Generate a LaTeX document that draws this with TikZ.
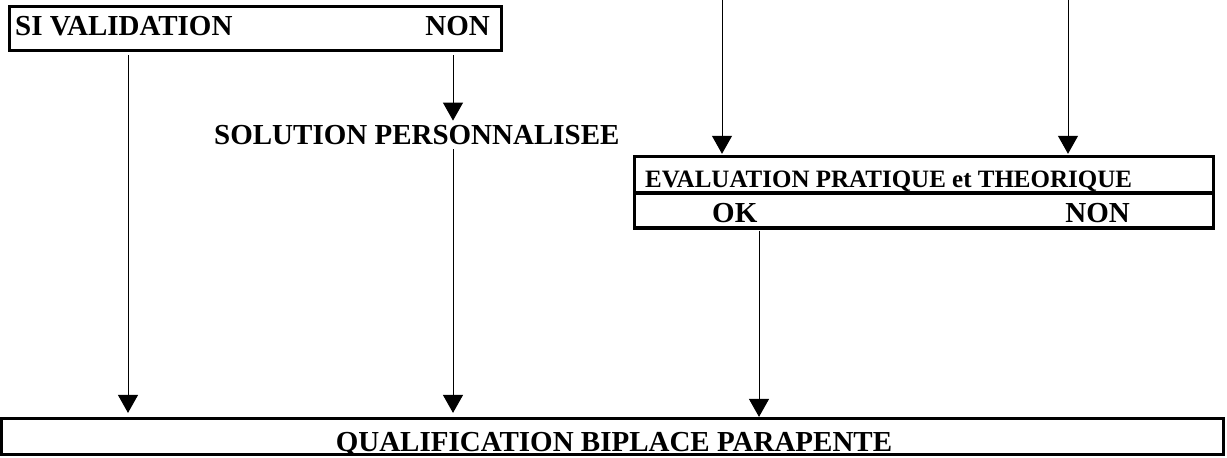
\documentclass[tikz,border=0pt]{standalone}
\usepackage{fontspec}
\setmainfont{Liberation Serif}
\usetikzlibrary{arrows.meta,calc}
\begin{document}
\begin{tikzpicture}[x=1pt,y=-1pt,
  boxst/.style={draw, line width=3.4pt, inner sep=0pt, minimum width=#1},
  big/.style={inner sep=0pt, font=\fontsize{29}{34}\selectfont\bfseries},
  small/.style={inner sep=0pt, font=\fontsize{25}{30}\selectfont\bfseries},
  arr/.style={line width=1pt, -{Triangle[width=20pt,length=18pt]}}]
\useasboundingbox (0,0) rectangle (1227,458);
% boxes
\node[boxst=491.8pt, minimum height=43.8pt] (topbox) at (255.5,28.5) {};
\node[boxst=579pt, minimum height=36.5pt] (evtop) at (924,174.75) {};
\node[boxst=579pt, minimum height=35pt] (evbot) at (924,210.5) {};
\node[boxst=1221.8pt, minimum height=35.8pt] (bottom) at (612.5,436.5) {};
% texts
\node[big, anchor=base west] (si) at (15,35) {SI VALIDATION};
\node[big, anchor=base east] (non1) at (490,35) {NON};
\node[big, anchor=base west] (sol) at (214,144) {SOLUTION PERSONNALISEE};
\node[small, anchor=base west] (ev) at (645,187) {EVALUATION PRATIQUE et THEORIQUE};
\node[big, anchor=base west] (ok) at (712,222) {OK};
\node[big, anchor=base east] (non2) at (1130,222) {NON};
\node[big, anchor=base] (qual) at (614,451) {QUALIFICATION BIPLACE PARAPENTE};
% x positions of connectors
\coordinate (xA) at (128,0);
\coordinate (xB) at (453,0);
\coordinate (in1) at (722,0);
\coordinate (in2) at (1068,0);
\coordinate (xC) at (759,0);
% connectors
\draw[arr, shorten <=3pt, shorten >=4pt] (xA |- topbox.south) -- (xA |- bottom.north);
\draw[arr, shorten <=3pt, shorten >=4pt] (xB |- topbox.south) -- (xB |- sol.north);
\draw[arr, shorten <=5pt, shorten >=4pt] (xB |- sol.south) -- (xB |- bottom.north);
\draw[arr, shorten >=1pt] (in1) -- (in1 |- evtop.north);
\draw[arr, shorten >=1pt] (in2) -- (in2 |- evtop.north);
\draw[arr, shorten <=1pt, shorten >=0pt] (xC |- evbot.south) -- (xC |- bottom.north);
\end{tikzpicture}
\end{document}
